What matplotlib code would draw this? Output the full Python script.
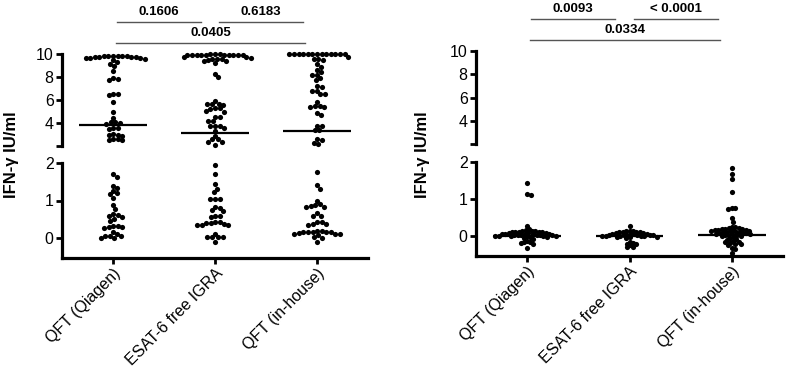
import matplotlib.pyplot as plt
import numpy as np

plt.rcParams['font.family'] = ['Liberation Sans', 'DejaVu Sans']

groups = ['QFT (Qiagen)', 'ESAT-6 free IGRA', 'QFT (in-house)']

# left panel values (IFN-gamma IU/ml)
left_qiagen = [9.85, 9.7, 9.8, 9.65, 9.85, 9.7, 9.8, 9.65, 9.85, 9.7, 9.8, 9.65, 9.75, 9.6,
               9.45, 9.3, 9.15, 9.0, 8.5, 7.9, 7.7, 7.85, 6.5, 6.4, 6.55,
               5.8, 5.0, 4.45, 4.1, 4.0, 3.95, 4.05, 3.6, 3.5, 3.55, 3.0, 2.9, 2.95, 3.05,
               2.55, 2.5, 2.6, 2.65,
               1.70, 1.64, 1.40, 1.34, 1.25, 1.21, 1.17, 1.08, 0.88, 0.77, 0.61, 0.57,
               0.60, 0.63, 0.45, 0.51, 0.30, 0.28, 0.33, 0.32, 0.29, 0.15, 0.12, 0.06,
               0.05, -0.01, 0.01, 0.06]
left_esat = [9.95, 9.96, 9.95, 9.94, 9.95, 9.96, 9.95, 9.94, 9.95, 9.96, 9.95, 9.94, 9.95,
             9.7, 9.65, 9.6, 9.7, 9.55, 9.6, 9.42, 9.4, 9.45, 9.2, 8.23, 7.97, 5.9, 5.63,
             5.65, 5.6, 5.62, 5.28, 5.3, 5.25, 5.04, 5.0, 4.55, 4.5, 4.17, 4.2, 3.74, 3.76,
             3.7, 3.54, 3.3, 2.9, 2.58, 2.6, 2.37, 2.35, 2.09,
             1.96, 1.72, 1.43, 1.32, 1.24, 1.04, 1.03, 1.05, 0.8, 0.72, 0.74, 0.82, 0.57,
             0.58, 0.6, 0.43, 0.4, 0.36, 0.35, 0.36, 0.38, 0.4, 0.42, 0.12, 0.03, 0.03,
             0.04, 0.03, -0.11]
left_inhouse = [9.97, 9.96, 9.97, 9.98, 9.97, 9.96, 9.97, 9.98, 9.97, 9.96, 9.97, 9.98, 9.97,
                9.7, 9.6, 9.5, 9.55, 9.1, 8.9, 8.6, 8.46, 8.17, 8.2, 7.88, 7.7, 7.15, 7.2,
                6.78, 6.8, 6.5, 6.5, 5.8, 5.4, 5.4, 5.45, 5.5, 4.9, 4.7, 3.74, 3.75, 3.4,
                3.35, 2.6, 2.55, 2.3, 2.2,
                1.75, 1.41, 1.31, 0.99, 0.88, 0.85, 0.82, 0.84, 0.9, 0.59, 0.6, 0.66, 0.43,
                0.38, 0.36, 0.37, 0.42, 0.2, 0.18, 0.15, 0.13, 0.1, 0.08, 0.11, 0.12, 0.15,
                0.16, 0.17, 0.17, 0.01, 0.02, -0.11]
left_medians = [3.8, 3.1, 3.3]
left_pvals = [(0, 1, '0.1606'), (1, 2, '0.6183'), (0, 2, '0.0405')]

# right panel values
right_qiagen = [1.44, 1.13, 1.12, 0.27, 0.19,
                0.16, 0.15, 0.14, 0.13, 0.12, 0.12, 0.11, 0.10, 0.10, 0.09, 0.08, 0.08,
                0.07, 0.06, 0.06, 0.05, 0.05, 0.04, 0.04, 0.03, 0.03, 0.02, 0.02, 0.01,
                0.01, 0.0, 0.0, 0.0, 0.0, -0.01, -0.02, -0.05, -0.08, -0.12, -0.15,
                -0.17, -0.2, -0.16, -0.33]
right_esat = [0.27, 0.15, 0.14, 0.13, 0.12, 0.11, 0.1, 0.1, 0.09, 0.08, 0.07, 0.06, 0.06,
              0.05, 0.04, 0.04, 0.03, 0.03, 0.02, 0.02, 0.01, 0.01, 0.0, 0.0, 0.0, -0.01,
              -0.02, -0.03, -0.05, -0.15, -0.2, -0.25, -0.3, -0.28, -0.22, -0.17]
right_inhouse = [1.83, 1.69, 1.54, 1.18, 0.76, 0.75, 0.74, 0.48, 0.39, 0.25, 0.24, 0.22,
                 0.21, 0.2, 0.2, 0.19, 0.18, 0.18, 0.17, 0.16, 0.15, 0.14, 0.13, 0.12,
                 0.12, 0.11, 0.1, 0.09, 0.08, 0.08, 0.07, 0.06, 0.05, 0.04, 0.03, 0.02,
                 0.01, 0.0, -0.02, -0.05, -0.08, -0.1, -0.12, -0.15, -0.18, -0.2, -0.22,
                 -0.16, -0.25, -0.33, -0.35, -0.45]
right_medians = [0.0, 0.0, 0.02]
right_pvals = [(0, 1, '0.0093'), (1, 2, '< 0.0001'), (0, 2, '0.0334')]

BREAK = 2.0


def swarm(ax, xc, vals, d):
    # beeswarm offsets computed in pixels, returned in data units
    if len(vals) == 0:
        return np.array([])
    pts = ax.transData.transform(np.column_stack([np.full(len(vals), xc), vals]))
    ys = pts[:, 1]
    pxu = ax.transData.transform((1, 0))[0] - ax.transData.transform((0, 0))[0]
    xs = np.zeros(len(vals))
    placed = []
    for i in np.argsort(-ys):
        y = ys[i]
        cands = [0.0]
        for px, py in placed:
            dy = y - py
            if abs(dy) < d:
                dx = np.sqrt(d * d - dy * dy)
                cands += [px + dx, px - dx]
        cands.sort(key=abs)
        for c in cands:
            if all((c - px) ** 2 + (y - py) ** 2 >= d * d - 1e-6 for px, py in placed):
                xs[i] = c
                placed.append((c, y))
                break
    return xc + xs / pxu


def style_axis(ax):
    for s in ['top', 'right']:
        ax.spines[s].set_visible(False)
    ax.spines['left'].set_linewidth(2.3)
    ax.spines['bottom'].set_linewidth(2.3)
    ax.tick_params(width=2, length=4, labelsize=11.5, pad=2)


def panel(x0, width, up_box, lo_box, data, medians, pvals, label_x, dot_d):
    axu = fig.add_axes([x0, up_box[0], width, up_box[1]])
    axl = fig.add_axes([x0, lo_box[0], width, lo_box[1]])
    for ax in (axu, axl):
        style_axis(ax)
        ax.set_xlim(-0.5, 2.5)
    axu.set_ylim(2, 10)
    axu.spines['bottom'].set_visible(False)
    axu.set_xticks([])
    axu.set_yticks([2, 4, 6, 8, 10])
    axu.set_yticklabels(['', '4', '6', '8', '10'])
    axl.set_ylim(-0.52, 2)
    axl.set_yticks([0, 1, 2])
    axl.set_xticks(range(3))
    axl.set_xticklabels(groups, rotation=45, ha='right', rotation_mode='anchor', fontsize=11.5)

    for k, vals in enumerate(data):
        vals = np.array(vals)
        hi = vals[vals > BREAK]
        lo = vals[vals <= BREAK]
        axu.scatter(swarm(axu, k, hi, dot_d), hi, s=14, color='black', lw=0, clip_on=False, zorder=3)
        axl.scatter(swarm(axl, k, lo, dot_d), lo, s=14, color='black', lw=0, clip_on=False, zorder=3)
        for ax in (axu, axl):
            ax.hlines(medians[k], k - 0.33, k + 0.33, color='black', lw=1.6, zorder=4)

    for i, j, txt in pvals:
        if j - i == 1:
            a, b, y = i + 0.04, j - 0.14, 12.75
        else:
            a, b, y = i + 0.03, j - 0.12, 10.95
        axu.plot([a, b], [y, y], color='#555555', lw=1, clip_on=False)
        axu.text((a + b) / 2, y + 0.35, txt, ha='center', va='bottom', fontsize=9.5,
                 fontweight='bold', clip_on=False)

    fig.text(label_x, 1 - 155 / 367, 'IFN-γ IU/ml', rotation=90, ha='center', va='center',
             fontsize=12, fontweight='bold')


fig = plt.figure(figsize=(7.87, 3.67), dpi=100)

panel(62 / 787, 306 / 787, (1 - 146 / 367, 92 / 367), (1 - 257.5 / 367, 94.5 / 367),
      [left_qiagen, left_esat, left_inhouse], left_medians, left_pvals, 12 / 787, 4.6)
panel(476 / 787, 307 / 787, (1 - 144 / 367, 93 / 367), (1 - 255.5 / 367, 93.5 / 367),
      [right_qiagen, right_esat, right_inhouse], right_medians, right_pvals, 422 / 787, 3.5)

plt.savefig('out.png', dpi=100)
